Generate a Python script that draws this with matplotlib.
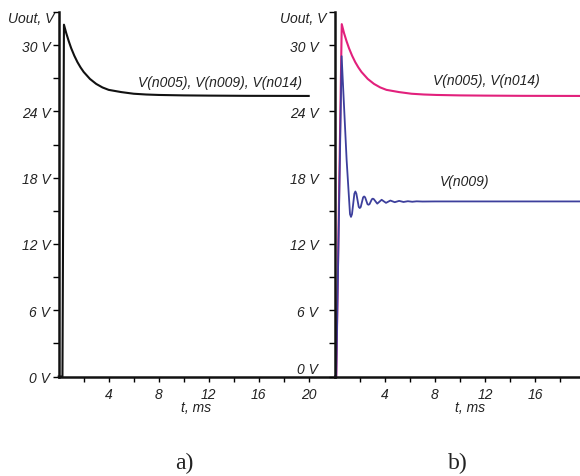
import numpy as np
import matplotlib.pyplot as plt
from matplotlib.ticker import MultipleLocator, FixedLocator

# Panel a): V(n005), V(n009), V(n014) coincide
t_a = [0, 0.3, 0.42, 0.6, 0.8, 1.0, 1.25, 1.5, 1.75, 2.0, 2.5, 3.0, 3.5,
       4.0, 5.0, 6.0, 7.0, 8.0, 10, 12, 15, 20]
v_a = [0, 0, 31.85, 31.1, 30.37, 29.72, 29.04, 28.46, 27.98, 27.57, 26.94,
       26.49, 26.17, 25.95, 25.75, 25.6, 25.53, 25.49, 25.45, 25.43, 25.41, 25.4]

# Panel b): V(n005), V(n014)
t_b1 = [0, 0.1, 0.54, 0.72, 0.92, 1.12, 1.37, 1.62, 1.87, 2.12, 2.62, 3.12,
        3.62, 4.12, 5.12, 6.12, 7.12, 8.12, 10, 12, 15, 19.6]
v_b1 = [0, 0, 31.9, 31.1, 30.37, 29.72, 29.04, 28.46, 27.98, 27.57, 26.94,
        26.49, 26.17, 25.95, 25.75, 25.6, 25.53, 25.49, 25.45, 25.43, 25.41, 25.4]

# Panel b): V(n009), damped ringing
t_b2 = [0, 0.1, 0.53, 0.93, 1.2, 1.28, 1.36, 1.55, 1.63, 1.71, 1.9, 1.98, 2.06,
        2.25, 2.33, 2.41, 2.6, 2.68, 2.76, 2.95, 3.03, 3.11, 3.38, 3.73,
        4.08, 4.43, 4.78, 5.13, 5.48, 5.83, 6.18, 6.53, 7.0, 8.0, 19.6]
v_b2 = [0, 0, 29.0, 19.6, 14.7, 14.45, 14.7, 16.55, 16.75, 16.55, 15.35, 15.25,
        15.35, 16.22, 16.3, 16.22, 15.6, 15.55, 15.6, 16.05, 16.1, 16.05, 15.65,
        16.0, 15.72, 15.93, 15.78, 15.9, 15.8, 15.87, 15.82, 15.86, 15.84,
        15.85, 15.85]

y_major = [0, 6, 12, 18, 24, 30]
y_labels = ['0 V', '6 V', '12 V', '18 V', '24 V', '30 V']
x_major_a = [4, 8, 12, 16, 20]
x_major_b = [4, 8, 12, 16]

SANS = 'Liberation Sans'
SERIF = 'Liberation Serif'
MAGENTA = '#e2207c'
BLUE = '#3d3f9c'
TXT = '#222222'

fig = plt.figure(figsize=(5.8, 4.77), dpi=100)
W, H = 580, 477


def make_axes(x0, x1, xmax, xticks, xminor, ylab_pad):
    ax = fig.add_axes([x0 / W, 1 - 377.5 / H, (x1 - x0) / W, (377.5 - 13) / H])
    ax.set_xlim(0, xmax)
    ax.set_ylim(0, 33)
    for s in ['top', 'right']:
        ax.spines[s].set_visible(False)
    for s in ['left', 'bottom']:
        ax.spines[s].set_linewidth(1.8)
        ax.spines[s].set_color('#111111')
    ax.set_yticks(y_major)
    ax.set_yticklabels(y_labels)
    ax.yaxis.set_minor_locator(MultipleLocator(3))
    ax.set_xticks(xticks)
    ax.set_xticklabels([str(v) for v in xticks])
    ax.xaxis.set_minor_locator(FixedLocator(xminor))
    ax.tick_params(axis='y', which='both', direction='out', length=4,
                   width=1, pad=ylab_pad)
    ax.tick_params(axis='x', which='both', direction='out', length=3.5,
                   width=1, pad=4)
    for lab in ax.get_xticklabels() + ax.get_yticklabels():
        lab.set_fontfamily(SANS)
        lab.set_fontstyle('italic')
        lab.set_fontsize(10)
        lab.set_color(TXT)
    ax.patch.set_alpha(0)
    return ax


# left panel extends its time axis up to the right panel's spine
ax1 = make_axes(58.7, 335, (335 - 58.7) / 12.5, x_major_a, [2, 6, 10, 14, 18], 2)
ax2 = make_axes(335, 580, (580 - 335) / 12.5, x_major_b, [2, 6, 10, 14, 18], 8)
# the right panel's "0 V" sits a bit above its axis
ax2.get_yticklabels()[0].set_va('bottom')

ax1.plot(t_a, v_a, color='#111111', lw=1.5, clip_on=False)
ax2.plot(t_b1, v_b1, color=MAGENTA, lw=1.5, clip_on=False)
ax2.plot(t_b2, v_b2, color=BLUE, lw=1.3, clip_on=False)

lab_kw = dict(fontfamily=SANS, fontstyle='italic', fontsize=10, color=TXT)
ax1.text(6.35, 26.7, 'V(n005), V(n009), V(n014)', ha='left', va='center', **lab_kw)
ax2.text(7.84, 26.8, 'V(n005), V(n014)', ha='left', va='center', **lab_kw)
ax2.text(8.4, 17.7, 'V(n009)', ha='left', va='center', **lab_kw)

fig.text(8 / W, 1 - 19 / H, 'Uout, V', ha='left', va='center', **lab_kw)
fig.text(280 / W, 1 - 19 / H, 'Uout, V', ha='left', va='center', **lab_kw)
fig.text(196 / W, 1 - 408 / H, 't, ms', ha='center', va='center', **lab_kw)
fig.text(470 / W, 1 - 408 / H, 't, ms', ha='center', va='center', **lab_kw)

cap_kw = dict(fontfamily=SERIF, fontsize=17, color=TXT, ha='center', va='center')
fig.text(184 / W, 1 - 463 / H, 'a)', **cap_kw)
fig.text(458 / W, 1 - 463 / H, 'b)', **cap_kw)

fig.savefig('out.png', dpi=100, facecolor='white')
